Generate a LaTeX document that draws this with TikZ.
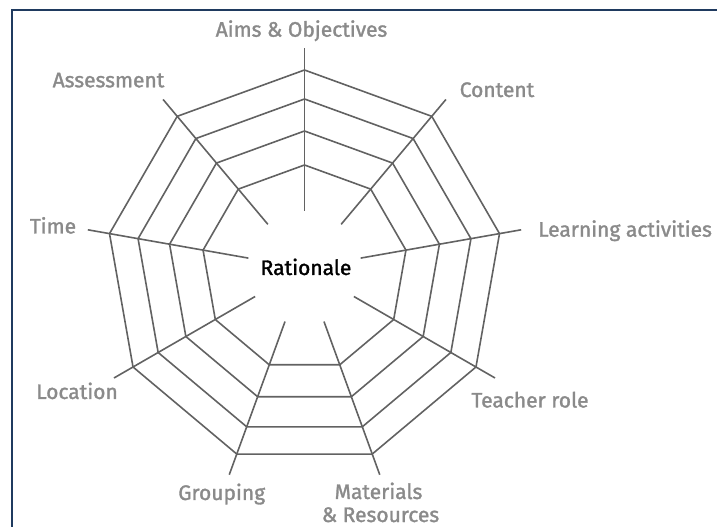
\documentclass[tikz,border=0pt]{standalone}
\usepackage{fontspec}
\setmainfont{Fira Sans}[UprightFeatures={FakeBold=1.5}]
\usetikzlibrary{positioning}
\definecolor{webgray}{HTML}{626262}
\definecolor{labelgray}{HTML}{8A8A8A}
\definecolor{framenavy}{HTML}{1F3A5F}

\begin{document}
\begin{tikzpicture}[x=1pt, y=1pt, font=\fontsize{21}{23.5}\selectfont,
    web/.style={draw=webgray, line width=1.6pt, line join=miter},
    axislabel/.style={text=labelgray, inner sep=0pt, anchor=base}]
  \useasboundingbox (0,0) rectangle (717,527);
  \clip (0,0) rectangle (717,527);
  \draw[framenavy, line width=2pt] (12,-10) rectangle (730,517);
  \coordinate (C) at (304.5,259);
  % rings
  \begin{scope}[shift={(C)}]
    \foreach \r in {103,137,169,198}
      \draw[web] (90:\r) \foreach \k in {1,...,8} {-- (90+40*\k:\r)} -- cycle;
    % spokes
    \foreach \k in {0,...,8}
      \draw[web] (90+40*\k:57) -- (90+40*\k:220);
  \end{scope}
  \node[anchor=base, inner sep=0pt, text=black] (rationale) at (306,252) {Rationale};
  \node[axislabel] (aims) at (301.5,490.3) {Aims \& Objectives};
  \node[axislabel] (content) at (497,430) {Content};
  \node[axislabel, anchor=base west] (learning) at (538,290.3) {Learning activities};
  \node[axislabel] (teacher) at (530,119.5) {Teacher role};
  \node[axislabel] (materials) at (378.5,28) {Materials};
  \node[axislabel] (resources) at (380.5,5) {\& Resources};
  \node[axislabel] (grouping) at (221.7,27) {Grouping};
  \node[axislabel] (location) at (77,128) {Location};
  \node[axislabel] (time) at (53,293.5) {Time};
  \node[axislabel] (assessment) at (108.5,439.7) {Assessment};
\end{tikzpicture}
\end{document}
